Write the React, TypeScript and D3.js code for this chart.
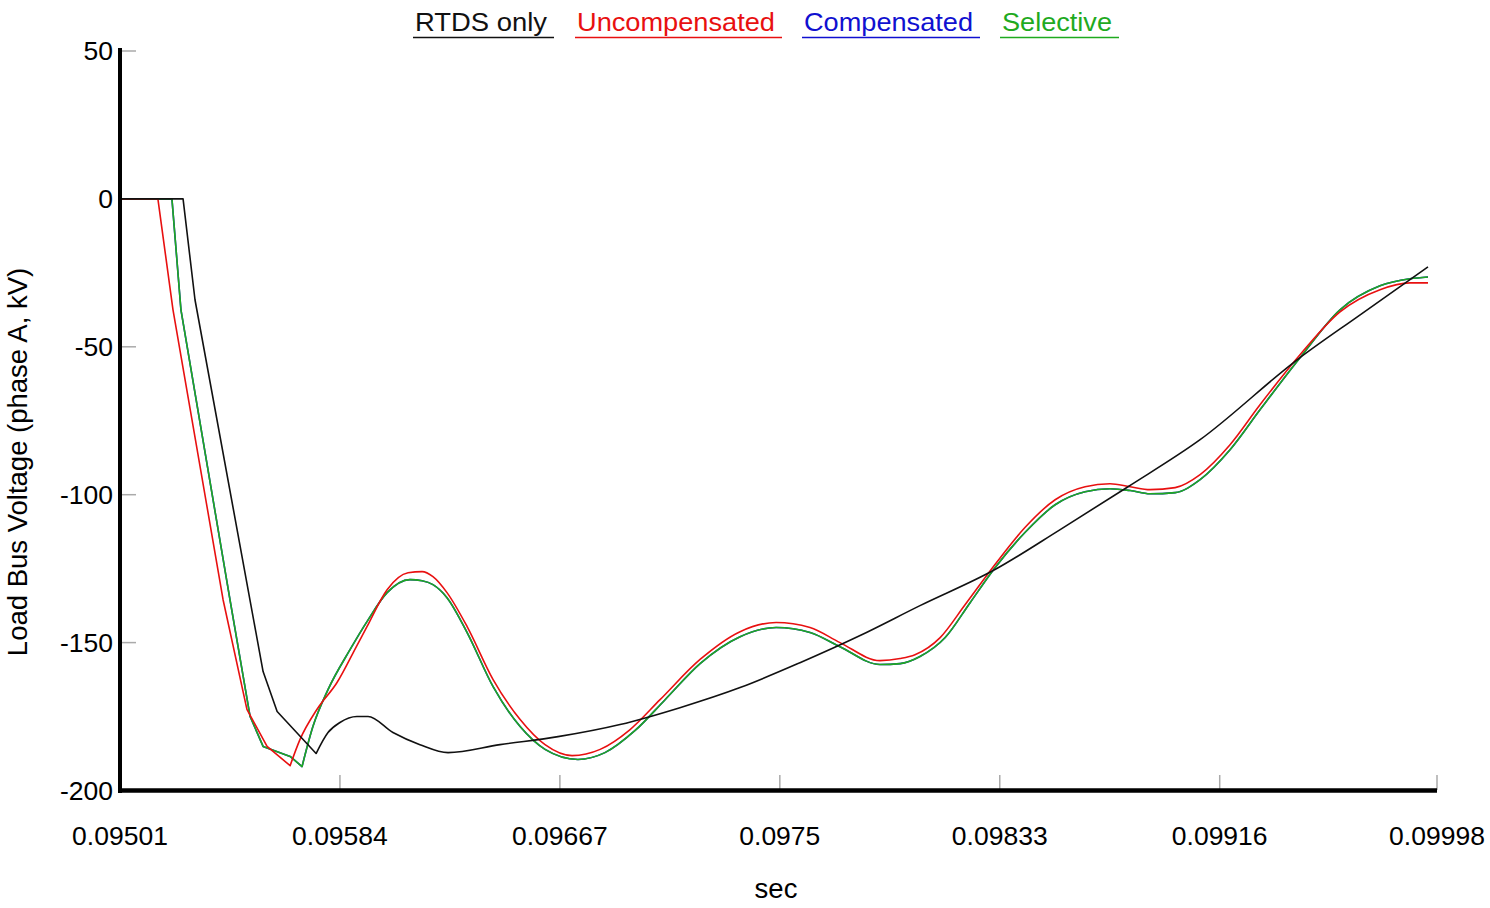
import React from "react";
import * as d3 from "d3";

// ---- Data (time in seconds, voltage in kV) ----
const rtdsT = [0.09501, 0.095248, 0.095293, 0.09555, 0.095603, 0.09575, 0.095795, 0.09584, 0.095904, 0.095946, 0.09604, 0.096142, 0.096248, 0.096444, 0.096663, 0.096897, 0.097123, 0.09735, 0.097576, 0.097803, 0.098029, 0.098312, 0.098558, 0.098814, 0.099086, 0.099452, 0.09969, 0.099946];
const rtdsV = [0, 0, -34.1, -159.8, -173.3, -187.5, -180.4, -177.0, -175.0, -175.0, -180.4, -184.5, -187.2, -184.5, -181.8, -177.7, -172.0, -165.2, -156.8, -147.6, -137.5, -125.3, -111.8, -97.3, -81.4, -54.4, -39.2, -23.0];

const uncompT = [0.09501, 0.095153, 0.09521, 0.095399, 0.095489, 0.095565, 0.095652, 0.095689, 0.095753, 0.095829, 0.095904, 0.095942, 0.096018, 0.096097, 0.09615, 0.096191, 0.096244, 0.09632, 0.096418, 0.09652, 0.096614, 0.096716, 0.096822, 0.096935, 0.097048, 0.097199, 0.09735, 0.097486, 0.097614, 0.097727, 0.097878, 0.097954, 0.09801, 0.098105, 0.098199, 0.098312, 0.098425, 0.098539, 0.098652, 0.098746, 0.098822, 0.098897, 0.098992, 0.099086, 0.099199, 0.099312, 0.099463, 0.099614, 0.099765, 0.099878, 0.099946];
const uncompV = [0, 0, -37.5, -135.5, -172.6, -185.1, -191.6, -182.8, -172.6, -163.5, -151.0, -144.6, -132.1, -126.4, -126.0, -127.7, -133.1, -144.6, -162.5, -176.0, -184.5, -188.2, -186.1, -179.4, -169.3, -155.7, -146.3, -143.2, -144.9, -150.0, -156.1, -155.4, -154.1, -148.3, -137.2, -123.6, -111.1, -101.7, -97.3, -96.3, -97.3, -98.3, -97.6, -93.2, -83.1, -69.6, -52.7, -38.2, -30.7, -28.4, -28.4];

const selT = [0.09501, 0.095206, 0.09524, 0.095425, 0.095501, 0.09555, 0.095652, 0.095697, 0.095738, 0.095795, 0.095878, 0.095942, 0.096018, 0.096104, 0.09615, 0.096191, 0.096244, 0.09632, 0.096418, 0.09652, 0.096614, 0.096738, 0.09684, 0.096954, 0.097067, 0.097199, 0.09735, 0.097486, 0.097614, 0.097727, 0.097878, 0.097954, 0.098029, 0.098124, 0.098218, 0.098312, 0.098425, 0.098539, 0.098652, 0.098746, 0.098822, 0.098897, 0.098992, 0.099086, 0.099199, 0.099312, 0.099463, 0.099614, 0.099765, 0.099878, 0.099946];
const selV = [0, 0, -37.5, -135.5, -175.0, -185.1, -188.5, -191.9, -178.4, -165.9, -152.4, -142.9, -133.1, -128.7, -129.1, -130.4, -134.8, -146.6, -164.9, -178.4, -186.1, -189.5, -187.2, -179.7, -169.3, -157.1, -148.0, -144.9, -146.6, -151.4, -157.4, -157.1, -154.7, -148.3, -136.5, -124.7, -112.8, -103.4, -99.0, -98.0, -98.6, -99.7, -99.3, -94.9, -84.8, -71.3, -53.7, -37.5, -29.4, -27.0, -26.4];

// Compensated coincides with Selective in the reference (hidden beneath it)
const compT = selT;
const compV = selV;

const xTicks = [0.09501, 0.09584, 0.09667, 0.0975, 0.09833, 0.09916, 0.09998];
const xTickLabels = ["0.09501", "0.09584", "0.09667", "0.0975", "0.09833", "0.09916", "0.09998"];
const yTicks = [50, 0, -50, -100, -150, -200];

const seriesNames = ["RTDS only", "Uncompensated", "Compensated", "Selective"];
const seriesColors = ["#111111", "#e81010", "#1010d0", "#1faa1f"];
// index of the sharp minimum after which each trace is smooth
const kinkIndex = [5, 6, 7, 7];

export default function App() {
  const W = 1490, H = 908;
  const x = d3.scaleLinear().domain([0.09501, 0.09998]).range([120, 1437]);
  const y = d3.scaleLinear().domain([-200, 50]).range([790.5, 51]);
  const font = "'Liberation Sans', Arial, Helvetica, sans-serif";

  const lineLin = d3.line<[number, number]>().x(d => x(d[0])).y(d => y(d[1]));
  const lineSmooth = d3.line<[number, number]>().x(d => x(d[0])).y(d => y(d[1])).curve(d3.curveMonotoneX);
  const mk = (t: number[], v: number[]) => t.map((ti, i) => [ti, v[i]] as [number, number]);
  const series = [mk(rtdsT, rtdsV), mk(uncompT, uncompV), mk(compT, compV), mk(selT, selV)];
  const pathFor = (i: number) => {
    const s = series[i];
    const k = kinkIndex[i];
    const a = lineLin(s.slice(0, k + 1)) || "";
    const b = lineSmooth(s.slice(k)) || "";
    return a + b.replace(/^M[^A-Za-z]*/, (m) => "L" + m.slice(1));
  };
  // draw order: compensated, selective, uncompensated, rtds
  const order = [2, 3, 1, 0];

  const legendX = [415, 577, 804, 1002];
  const legendW = [132, 198, 169, 110];

  return (
    <svg width={W} height={H} style={{ position: "absolute", left: 0, top: 0, background: "#fff" }} fontFamily={font}>
      <rect x={0} y={0} width={W} height={H} fill="#fff" />
      {/* legend */}
      {seriesNames.map((n, i) => (
        <g key={n}>
          <text x={legendX[i]} y={31} fontSize={25} fill={seriesColors[i]} textLength={legendW[i]} lengthAdjust="spacingAndGlyphs">{n}</text>
          <line x1={legendX[i] - 2} x2={legendX[i] + legendW[i] + 7} y1={37.5} y2={37.5} stroke={seriesColors[i]} strokeWidth={1.5} />
        </g>
      ))}
      {/* y ticks */}
      {yTicks.map(t => (
        <g key={t}>
          {t > -200 && <line x1={120} x2={136} y1={y(t)} y2={y(t)} stroke="#aaa" strokeWidth={1.5} />}
          <text x={113} y={y(t)} dy="0.35em" textAnchor="end" fontSize={26.5} fill="#000">{t}</text>
        </g>
      ))}
      {/* x ticks */}
      {xTicks.map((t, i) => (
        <g key={t}>
          {i > 0 && <line x1={x(t)} x2={x(t)} y1={775} y2={790} stroke="#aaa" strokeWidth={1.5} />}
          <text x={x(t)} y={845} textAnchor="middle" fontSize={26.5} fill="#000">{xTickLabels[i]}</text>
        </g>
      ))}
      {/* series */}
      {order.map(i => (
        <path key={i} d={pathFor(i)} fill="none" stroke={seriesColors[i]} strokeWidth={1.6} strokeLinejoin="round" />
      ))}
      {/* axes */}
      <line x1={120} x2={120} y1={48} y2={793} stroke="#000" strokeWidth={4} />
      <line x1={118} x2={1437} y1={790.5} y2={790.5} stroke="#000" strokeWidth={4.5} />
      {/* axis titles */}
      <text x={776} y={898} textAnchor="middle" fontSize={27.5} fill="#000">sec</text>
      <text transform="translate(27,462) rotate(-90)" textAnchor="middle" fontSize={27.5} fill="#000">Load Bus Voltage (phase A, kV)</text>
    </svg>
  );
}
